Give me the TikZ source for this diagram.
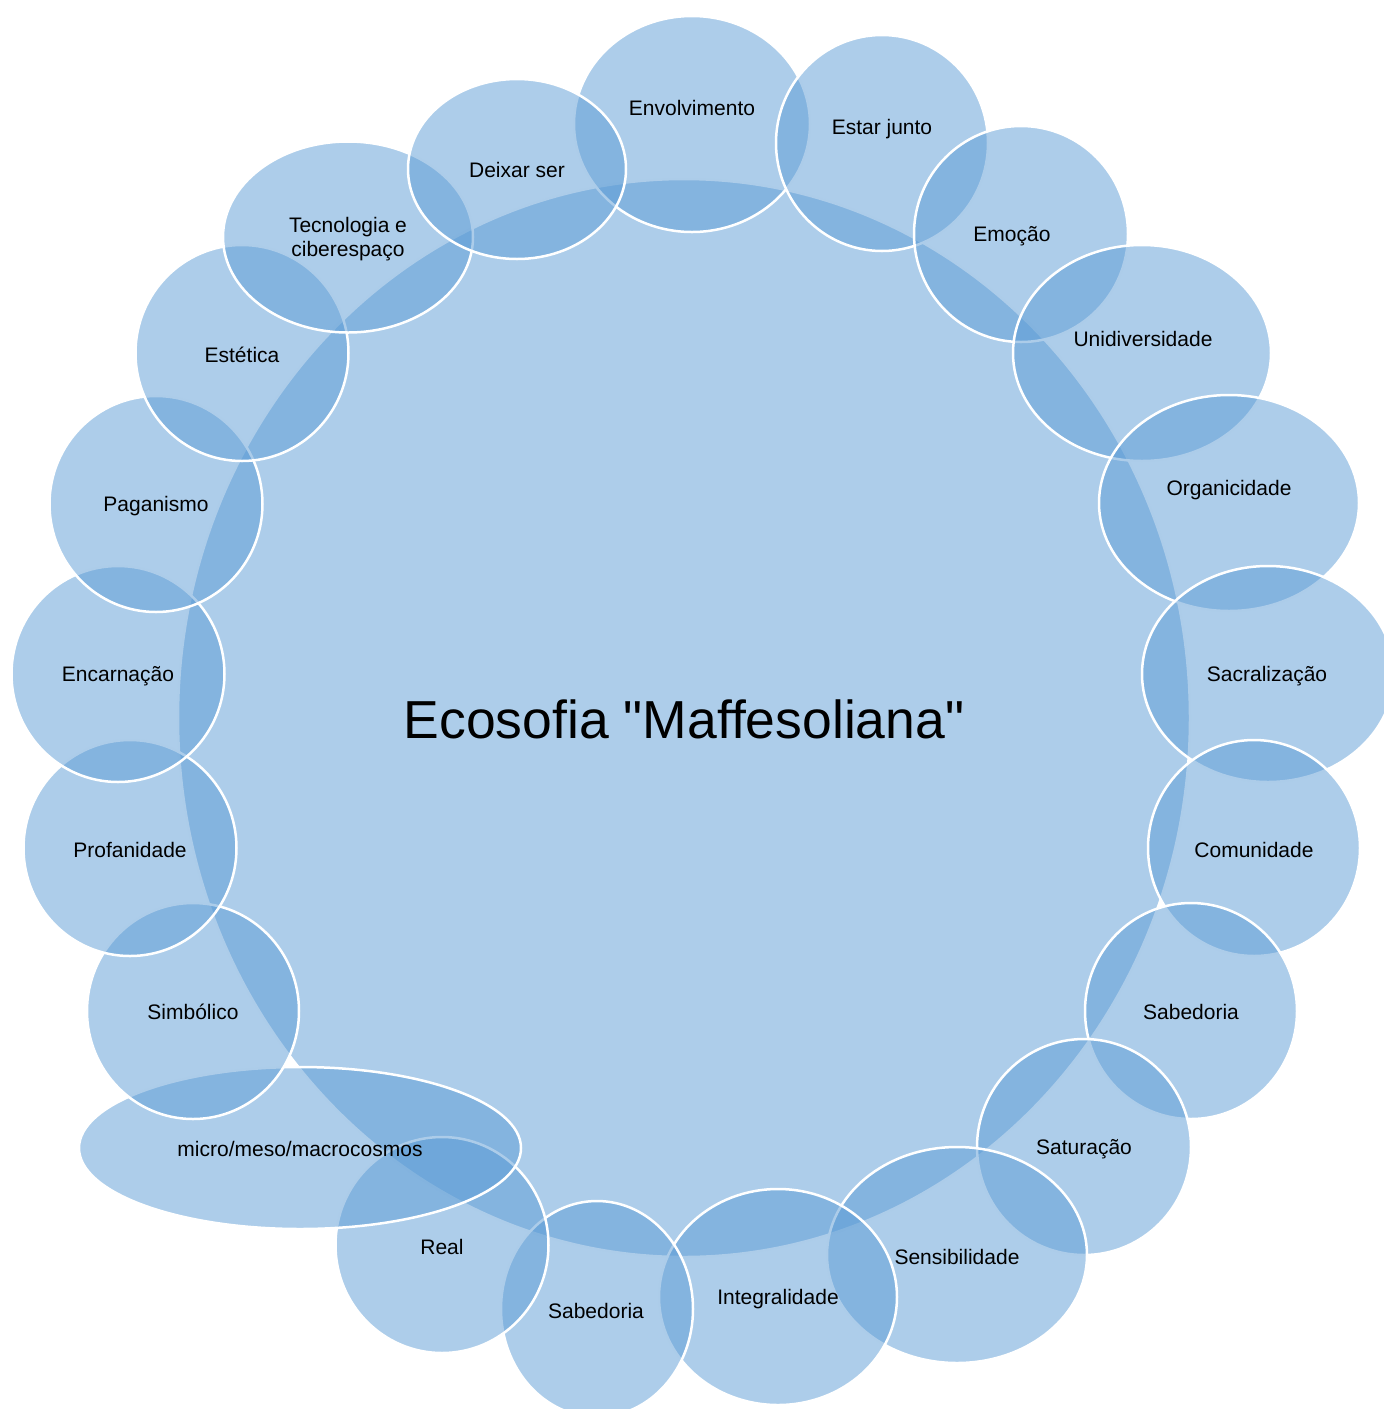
\documentclass[tikz,border=0pt]{standalone}
\usepackage{fontspec}
\setmainfont{Liberation Sans}[Ligatures={TeX,NoCommon}]
\usetikzlibrary{shapes.geometric}

\definecolor{bubblefill}{RGB}{91,155,213}
\tikzset{
  bubble/.style={ellipse, draw=white, line width=2.5pt, fill=bubblefill,
    fill opacity=0.5, draw opacity=1, inner sep=0pt},
  lbl/.style={font=\fontsize{21}{24}\selectfont, align=center, text=black, yshift=-2pt},
  title/.style={font=\fontsize{53.5}{60}\selectfont, text=black, yshift=-1pt},
}

\begin{document}
\begin{tikzpicture}[x=1pt,y=-1pt]
    \useasboundingbox (0,0) rectangle (1384,1409);

    % centre
    \node[bubble, minimum width=1012pt, minimum height=1078pt] (eco) at (684,718) {};

    % ring, clockwise from the top
    \node[bubble, minimum width=236pt, minimum height=216pt] (env) at (692,124) {};
    \node[bubble, minimum width=212pt, minimum height=216pt] (est) at (882,143) {};
    \node[bubble, minimum width=214pt, minimum height=216pt] (emo) at (1021,234) {};
    \node[bubble, minimum width=258pt, minimum height=216pt] (uni) at (1142,353) {};
    \node[bubble, minimum width=260pt, minimum height=216pt] (org) at (1229,503) {};
    \node[bubble, minimum width=252pt, minimum height=216pt] (sac) at (1268,674) {};
    \node[bubble, minimum width=212pt, minimum height=216pt] (com) at (1254,848) {};
    \node[bubble, minimum width=212pt, minimum height=216pt] (saba) at (1191,1011) {};
    \node[bubble, minimum width=214pt, minimum height=216pt] (sat) at (1084,1147) {};
    \node[bubble, minimum width=260pt, minimum height=216pt] (sen) at (957,1255) {};
    \node[bubble, minimum width=238pt, minimum height=216pt] (int) at (778,1297) {};
    \node[bubble, minimum width=192pt, minimum height=216pt] (sabb) at (597,1309) {};
    \node[bubble, minimum width=213pt, minimum height=216pt] (real) at (442,1245) {};
    \node[bubble, minimum width=442pt, minimum height=162pt] (mic) at (300,1148) {};
    \node[bubble, minimum width=212pt, minimum height=216pt] (sim) at (193,1011) {};
    \node[bubble, minimum width=213pt, minimum height=216pt] (pro) at (130,848) {};
    \node[bubble, minimum width=213pt, minimum height=216pt] (enc) at (118,674) {};
    \node[bubble, minimum width=213pt, minimum height=216pt] (pag) at (156,504) {};
    \node[bubble, minimum width=213pt, minimum height=216pt] (ste) at (242,353) {};
    \node[bubble, minimum width=250pt, minimum height=191pt] (tec) at (348,237) {};
    \node[bubble, minimum width=218pt, minimum height=180pt] (dei) at (517,169) {};

    % texts on top
    \node[title] (ecoT) at (684,718) {Ecosofia \textquotedbl Maffesoliana\textquotedbl};
    \node[lbl] (envT) at (692,106) {Envolvimento};
    \node[lbl] (estT) at (882,127) {Estar junto};
    \node[lbl] (emoT) at (1012,234) {Emoção};
    \node[lbl] (uniT) at (1143,337) {Unidiversidade};
    \node[lbl] (orgT) at (1229,488) {Organicidade};
    \node[lbl] (sacT) at (1267,674) {Sacralização};
    \node[lbl] (comT) at (1254,848) {Comunidade};
    \node[lbl] (sabaT) at (1191,1010) {Sabedoria};
    \node[lbl] (satT) at (1084,1147) {Saturação};
    \node[lbl] (senT) at (957,1255) {Sensibilidade};
    \node[lbl] (intT) at (778,1297) {Integralidade};
    \node[lbl] (sabbT) at (596,1309) {Sabedoria};
    \node[lbl] (realT) at (442,1245) {Real};
    \node[lbl] (micT) at (300,1147) {micro/meso/macrocosmos};
    \node[lbl] (simT) at (193,1010) {Simbólico};
    \node[lbl] (proT) at (130,848) {Profanidade};
    \node[lbl] (encT) at (118,674) {Encarnação};
    \node[lbl] (pagT) at (156,504) {Paganismo};
    \node[lbl] (steT) at (242,353) {Estética};
    \node[lbl] (tecT) at (348,237) {Tecnologia e\\ciberespaço};
    \node[lbl] (deiT) at (517,168) {Deixar ser};
\end{tikzpicture}
\end{document}
